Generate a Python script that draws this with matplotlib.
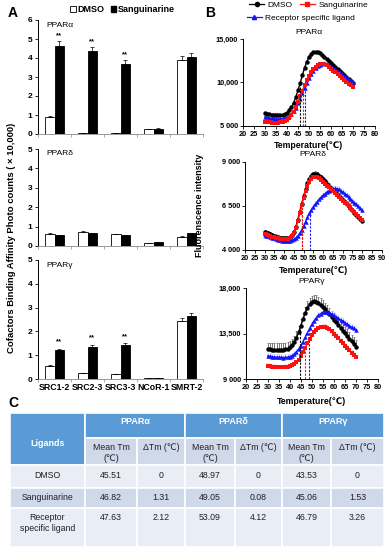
import numpy as np
import matplotlib
matplotlib.use('Agg')
import matplotlib.pyplot as plt
from matplotlib.patches import Rectangle, Patch
from matplotlib.lines import Line2D

plt.rcParams['font.family'] = ['Liberation Sans', 'DejaVu Sans']

# ---------------- Panel A data ----------------
cofactors = ['SRC1-2', 'SRC2-3', 'SRC3-3', 'NCoR-1', 'SMRT-2']
bar_titles = ['PPARα', 'PPARδ', 'PPARγ']
dmso_alpha = [0.90, 0.05, 0.05, 0.25, 3.90]
sang_alpha = [4.65, 4.35, 3.68, 0.28, 4.05]
dmso_alpha_err = [0.03, 0.02, 0.02, 0.02, 0.20]
sang_alpha_err = [0.25, 0.22, 0.20, 0.02, 0.20]
dmso_delta = [0.62, 0.74, 0.60, 0.14, 0.48]
sang_delta = [0.57, 0.65, 0.57, 0.19, 0.65]
dmso_delta_err = [0.03, 0.03, 0.02, 0.01, 0.03]
sang_delta_err = [0.02, 0.02, 0.02, 0.02, 0.03]
dmso_gamma = [0.56, 0.25, 0.21, 0.03, 2.45]
sang_gamma = [1.22, 1.36, 1.43, 0.03, 2.65]
dmso_gamma_err = [0.03, 0.02, 0.02, 0.01, 0.12]
sang_gamma_err = [0.06, 0.08, 0.08, 0.01, 0.13]
signif_alpha = ['**', '**', '**', '', '']
signif_delta = ['', '', '', '', '']
signif_gamma = ['**', '**', '**', '', '']

# ---------------- Panel B data ----------------
temps_alpha = list(range(30, 71))
melt_alpha_dmso = [6500, 6430, 6370, 6320, 6280, 6260, 6250, 6260, 6300, 6400, 6550, 6800, 7150, 7650,
                   8300, 9100, 9950, 10850, 11700, 12400, 12950, 13300, 13500, 13550, 13500, 13350, 13150,
                   12920, 12690, 12450, 12220, 11990, 11760, 11520, 11290, 11060, 10830, 10590, 10360,
                   10130, 9900]
melt_alpha_sang = [5500, 5450, 5420, 5400, 5380, 5380, 5390, 5420, 5480, 5580, 5730, 5950, 6250, 6650,
                   7150, 7750, 8400, 9050, 9700, 10300, 10800, 11200, 11550, 11800, 11980, 12080, 12130,
                   12100, 12000, 11790, 11580, 11360, 11150, 10940, 10730, 10510, 10300, 10090, 9880,
                   9660, 9450]
melt_alpha_lig = [6070, 6000, 5940, 5880, 5840, 5810, 5800, 5810, 5840, 5900, 6000, 6150, 6380, 6700,
                  7100, 7600, 8150, 8750, 9350, 9950, 10500, 10950, 11350, 11650, 11900, 12060, 12160,
                  12200, 12180, 12050, 11880, 11700, 11520, 11340, 11160, 10980, 10800, 10630, 10450,
                  10280, 10100]

temps_delta = list(range(30, 81))
melt_delta_dmso = [5020, 4980, 4930, 4880, 4830, 4790, 4750, 4710, 4680, 4660, 4650, 4650, 4670, 4720,
                   4820, 5000, 5300, 5700, 6150, 6600, 7050, 7450, 7800, 8050, 8230, 8320, 8340, 8300,
                   8220, 8120, 8010, 7890, 7770, 7660, 7540, 7420, 7300, 7180, 7070, 6950, 6830, 6710,
                   6590, 6480, 6360, 6240, 6120, 6000, 5890, 5770, 5650]
melt_delta_sang = [4900, 4870, 4830, 4790, 4750, 4720, 4690, 4660, 4630, 4610, 4600, 4600, 4620, 4670,
                   4770, 4950, 5240, 5630, 6070, 6520, 6950, 7330, 7650, 7880, 8030, 8120, 8150, 8130,
                   8070, 7980, 7870, 7760, 7660, 7550, 7440, 7330, 7230, 7120, 7010, 6900, 6800, 6690,
                   6580, 6470, 6370, 6260, 6150, 6040, 5940, 5830, 5720]
melt_delta_lig = [4840, 4800, 4760, 4720, 4680, 4640, 4600, 4570, 4540, 4520, 4510, 4500, 4500, 4510,
                  4540, 4590, 4670, 4780, 4930, 5120, 5350, 5600, 5850, 6080, 6280, 6450, 6600, 6740,
                  6870, 6990, 7100, 7200, 7290, 7370, 7430, 7470, 7490, 7480, 7440, 7370, 7290, 7200,
                  7110, 7010, 6910, 6800, 6690, 6580, 6470, 6360, 6250]

temps_gamma = list(range(30, 71))
melt_gamma_dmso = [11970, 11950, 11930, 11910, 11900, 11900, 11900, 11920, 11960, 12030, 12150, 12350,
                   12650, 13080, 13650, 14300, 14950, 15550, 16050, 16400, 16620, 16700, 16650, 16520,
                   16350, 16150, 15940, 15680, 15410, 15150, 14880, 14620, 14350, 14090, 13820, 13560,
                   13290, 13030, 12760, 12500, 12230]
melt_gamma_sang = [10320, 10290, 10260, 10230, 10210, 10200, 10200, 10200, 10220, 10250, 10300, 10380,
                   10500, 10680, 10930, 11260, 11660, 12100, 12550, 12970, 13340, 13650, 13890, 14060,
                   14160, 14200, 14180, 14100, 13970, 13740, 13510, 13270, 13040, 12810, 12580, 12340,
                   12110, 11880, 11650, 11410, 11180]
melt_gamma_lig = [11310, 11280, 11250, 11220, 11190, 11170, 11160, 11150, 11160, 11190, 11250, 11350,
                  11500, 11710, 11990, 12330, 12720, 13150, 13600, 14030, 14430, 14780, 15080, 15320,
                  15500, 15630, 15700, 15680, 15600, 15460, 15310, 15170, 15030, 14890, 14740, 14600,
                  14460, 14310, 14170, 14030, 13880]
# Upper error magnitude per series (dmso, sang, ligand)
melt_alpha_err = [120, 80, 150]
melt_delta_err = [120, 80, 150]
melt_gamma_err = [650, 250, 300]
# Tm dashed lines as drawn (dmso, sang, ligand)
tm_lines_alpha = [45.8, 47.3, 48.4]
tm_lines_delta = [49.0, 49.4, 53.3]
tm_lines_gamma = [44.8, 46.9, 48.6]

# ---------------- Panel C data ----------------
table_groups = ['PPARα', 'PPARδ', 'PPARγ']
table_ligands = ['DMSO', 'Sanguinarine', 'Receptor\nspecific ligand']
mean_tm = [[45.51, 48.97, 43.53],
           [46.82, 49.05, 45.06],
           [47.63, 53.09, 46.79]]
delta_tm = [[0, 0, 0],
            [1.31, 0.08, 1.53],
            [2.12, 4.12, 3.26]]

# ---------------- Figure ----------------
W, H = 388, 550
fig = plt.figure(figsize=(W / 100, H / 100), dpi=100)


def rect(l, r, t, b):
    return [l / W, 1 - b / H, (r - l) / W, (b - t) / H]


# ---- Panel A ----
A_rows = [(20, 134, 6, dmso_alpha, sang_alpha, dmso_alpha_err, sang_alpha_err, signif_alpha),
          (149, 246, 5, dmso_delta, sang_delta, dmso_delta_err, sang_delta_err, signif_delta),
          (260, 379, 5, dmso_gamma, sang_gamma, dmso_gamma_err, sang_gamma_err, signif_gamma)]
w = 0.29
xc = np.arange(len(cofactors)) + 0.5
for i, (t, b, ymax, dm, sg, dme, sge, sig) in enumerate(A_rows):
    ax = fig.add_axes(rect(38, 203, t, b))
    ekw = dict(ecolor='black', elinewidth=0.5, capsize=1.3, capthick=0.5)
    ax.bar(xc - w / 2, dm, w, color='white', edgecolor='black', linewidth=0.6,
           yerr=[np.zeros(len(dm)), dme], error_kw=ekw)
    ax.bar(xc + w / 2, sg, w, color='black', edgecolor='black', linewidth=0.6,
           yerr=[np.zeros(len(sg)), sge], error_kw=ekw)
    for j, s in enumerate(sig):
        if s:
            ax.text(xc[j] + w / 2, sg[j] + sge[j] + 0.28, s, ha='center', va='center',
                    fontsize=5.5, fontweight='bold')
    ax.set_xlim(0, 5)
    ax.set_ylim(0, ymax)
    ax.set_yticks(range(0, ymax + 1))
    ax.set_xticks(range(0, 6))
    ax.set_xticklabels([])
    ax.set_xticks(xc, minor=True)
    if i == 2:
        ax.set_xticklabels(cofactors, minor=True)
    else:
        ax.set_xticklabels([], minor=True)
    ax.tick_params(axis='x', which='minor', length=0, pad=3, labelsize=6.3)
    ax.tick_params(axis='x', which='major', length=2, width=0.5, color='#888888')
    ax.tick_params(axis='y', length=2, width=0.6, labelsize=6, pad=2)
    for lab in ax.get_xticklabels(minor=True) + ax.get_yticklabels():
        lab.set_fontweight('bold')
    for sp in ['top', 'right']:
        ax.spines[sp].set_visible(False)
    ax.spines['left'].set_linewidth(0.7)
    ax.spines['bottom'].set_linewidth(0.6)
    ax.spines['bottom'].set_color('#888888')
    ax.text(0.05, 0.985, bar_titles[i], transform=ax.transAxes, ha='left', va='top', fontsize=6)

fig.legend(handles=[Patch(facecolor='white', edgecolor='black', linewidth=0.6, label='DMSO'),
                    Patch(facecolor='black', edgecolor='black', label='Sanguinarine')],
           loc='upper left', bbox_to_anchor=(70 / W, 1 - 5 / H), ncol=2, frameon=False,
           prop=dict(size=6.5, weight='bold'), handlelength=0.65, handleheight=0.65,
           handletextpad=0.15, columnspacing=0.7, borderpad=0, borderaxespad=0)
fig.text(12 / W, 1 - 238 / H, 'Cofactors Binding Affinity Photo counts ( × 10,000)',
         rotation=90, ha='center', va='center', fontsize=6.8, fontweight='bold')

# ---- Panel B ----
red = '#ff1010'
blue = '#1414ff'
B_rows = [
    dict(box=(243, 375, 39, 126), xlim=(20, 80), ylim=(5000, 15000),
         yt=[5000, 10000, 15000], ytl=['5 000', '10,000', '15,000'],
         temps=temps_alpha, series=[melt_alpha_dmso, melt_alpha_sang, melt_alpha_lig],
         err=melt_alpha_err, tm=tm_lines_alpha, title='PPARα', xlab_y=145),
    dict(box=(245, 381.7, 162, 249.7), xlim=(20, 90), ylim=(4000, 9000),
         yt=[4000, 6500, 9000], ytl=['4 000', '6 500', '9 000'],
         temps=temps_delta, series=[melt_delta_dmso, melt_delta_sang, melt_delta_lig],
         err=melt_delta_err, tm=tm_lines_delta, title='PPARδ', xlab_y=270),
    dict(box=(245.7, 378, 288.3, 379.3), xlim=(20, 80), ylim=(9000, 18000),
         yt=[9000, 13500, 18000], ytl=['9 000', '13,500', '18,000'],
         temps=temps_gamma, series=[melt_gamma_dmso, melt_gamma_sang, melt_gamma_lig],
         err=melt_gamma_err, tm=tm_lines_gamma, title='PPARγ', xlab_y=401),
]
styles = [dict(color='black', marker='o', ecol='#444444'),
          dict(color=red, marker='s', ecol='#ffb0b0'),
          dict(color=blue, marker='^', ecol='#c4ceff')]
for row in B_rows:
    l, r, t, b = row['box']
    ax = fig.add_axes(rect(l, r, t, b))
    temps = row['temps']
    for k in [0, 2, 1]:
        s = row['series'][k]
        st = styles[k]
        ax.errorbar(temps, s, yerr=[np.zeros(len(s)), np.full(len(s), row['err'][k])],
                    fmt='none', ecolor=st['ecol'], elinewidth=0.5, capsize=1.0, capthick=0.4,
                    zorder=2)
        ax.plot(temps, s, color=st['color'], marker=st['marker'], markersize=3.2,
                linewidth=1.0, markeredgewidth=0, zorder=3)
    for k in range(3):
        tm = row['tm'][k]
        top = np.interp(tm, temps, row['series'][k])
        ax.plot([tm, tm], [row['ylim'][0], top], linestyle=(0, (2, 1.3)), linewidth=0.8,
                color=styles[k]['color'], zorder=4)
    ax.set_xlim(*row['xlim'])
    ax.set_ylim(*row['ylim'])
    ax.set_xticks(range(row['xlim'][0], row['xlim'][1] + 1, 5))
    ax.set_yticks(row['yt'])
    ax.set_yticklabels(row['ytl'])
    ax.tick_params(axis='both', length=2, width=0.6, labelsize=5.3, pad=1.5)
    for lab in ax.get_xticklabels() + ax.get_yticklabels():
        lab.set_fontweight('bold')
    for sp in ['top', 'right']:
        ax.spines[sp].set_visible(False)
    ax.spines['left'].set_linewidth(0.7)
    ax.spines['bottom'].set_linewidth(0.7)
    fig.text(((l + r) / 2) / W, 1 - (t - 7) / H, row['title'], ha='center', va='center',
             fontsize=6)
    fig.text(((l + r) / 2) / W, 1 - row['xlab_y'] / H, 'Temperature(℃)', ha='center',
             va='center', fontsize=6.3, fontweight='bold')

fig.text(200 / W, 1 - 205 / H, 'Fluorenscence intensity', rotation=90, ha='center',
         va='center', fontsize=6.5, fontweight='bold')
h_dmso = Line2D([], [], color='black', marker='o', markersize=3, lw=0.9, label='DMSO')
h_sang = Line2D([], [], color=red, marker='s', markersize=3, lw=0.9, label='Sanguinarine')
h_lig = Line2D([], [], color=blue, marker='^', markersize=3, lw=0.9,
               label='Receptor specific ligand')
leg_kw = dict(frameon=False, fontsize=6, handlelength=1.8, handletextpad=0.4,
              columnspacing=0.9, borderpad=0, borderaxespad=0, loc='upper left')
fig.legend(handles=[h_dmso, h_sang], ncol=2, bbox_to_anchor=(249 / W, 1 - 1 / H), **leg_kw)
fig.legend(handles=[h_lig], ncol=1, bbox_to_anchor=(247 / W, 1 - 14 / H), **leg_kw)

# ---- Panel labels & table overlay ----
ov = fig.add_axes([0, 0, 1, 1], zorder=-1)
ov.set_xlim(0, W)
ov.set_ylim(H, 0)
ov.axis('off')
ov.text(8, 13, 'A', fontsize=10, fontweight='bold', ha='left', va='center')
ov.text(205, 13, 'B', fontsize=10, fontweight='bold', ha='left', va='center')
ov.text(8, 403, 'C', fontsize=10, fontweight='bold', ha='left', va='center')

head_c = '#5b9bd5'
light_c = '#e9edf5'
mid_c = '#cfd9ea'
xe = [10, 85, 137, 185, 235, 282, 331, 384]
ye = [413, 438, 465, 488, 508, 547]
edge = dict(edgecolor='white', linewidth=1.2)
ov.add_patch(Rectangle((xe[0], ye[0]), xe[1] - xe[0], ye[2] - ye[0], facecolor=head_c, **edge))
ov.text((xe[0] + xe[1]) / 2, 443, 'Ligands', ha='center', va='center', color='white',
        fontsize=6.5, fontweight='bold')
for g in range(3):
    x0, x1, x2 = xe[1 + 2 * g], xe[2 + 2 * g], xe[3 + 2 * g]
    ov.add_patch(Rectangle((x0, ye[0]), x2 - x0, ye[1] - ye[0], facecolor=head_c, **edge))
    ov.text((x0 + x2) / 2, 422, table_groups[g], ha='center', va='center', color='white',
            fontsize=6.5, fontweight='bold')
    ov.add_patch(Rectangle((x0, ye[1]), x1 - x0, ye[2] - ye[1], facecolor=mid_c, **edge))
    ov.add_patch(Rectangle((x1, ye[1]), x2 - x1, ye[2] - ye[1], facecolor=mid_c, **edge))
    ov.text((x0 + x1) / 2, 453, 'Mean Tm\n(℃)', ha='center', va='center', color='#222222',
            fontsize=6.3, linespacing=1.2)
    ov.text((x1 + x2) / 2, 448, 'ΔTm (℃)', ha='center', va='center', color='#222222',
            fontsize=6.3)
row_cols = [light_c, mid_c, light_c]
row_text_y = [475.5, 497, 518]
for i in range(3):
    y0, y1 = ye[2 + i], ye[3 + i]
    for c in range(7):
        ov.add_patch(Rectangle((xe[c], y0), xe[c + 1] - xe[c], y1 - y0, facecolor=row_cols[i],
                               **edge))
    if i == 2:
        ov.text((xe[0] + xe[1]) / 2, 523, table_ligands[i], ha='center', va='center',
                color='#222222', fontsize=6.3, linespacing=1.25)
    else:
        ov.text((xe[0] + xe[1]) / 2, row_text_y[i], table_ligands[i], ha='center', va='center',
                color='#222222', fontsize=6.3)
    for g in range(3):
        m = mean_tm[i][g]
        d = delta_tm[i][g]
        ov.text((xe[1 + 2 * g] + xe[2 + 2 * g]) / 2, row_text_y[i], f'{m:.2f}', ha='center',
                va='center', color='#222222', fontsize=6.3)
        ov.text((xe[2 + 2 * g] + xe[3 + 2 * g]) / 2, row_text_y[i],
                '0' if d == 0 else f'{d:.2f}', ha='center', va='center', color='#222222',
                fontsize=6.3)

fig.savefig('out.png', dpi=100)
